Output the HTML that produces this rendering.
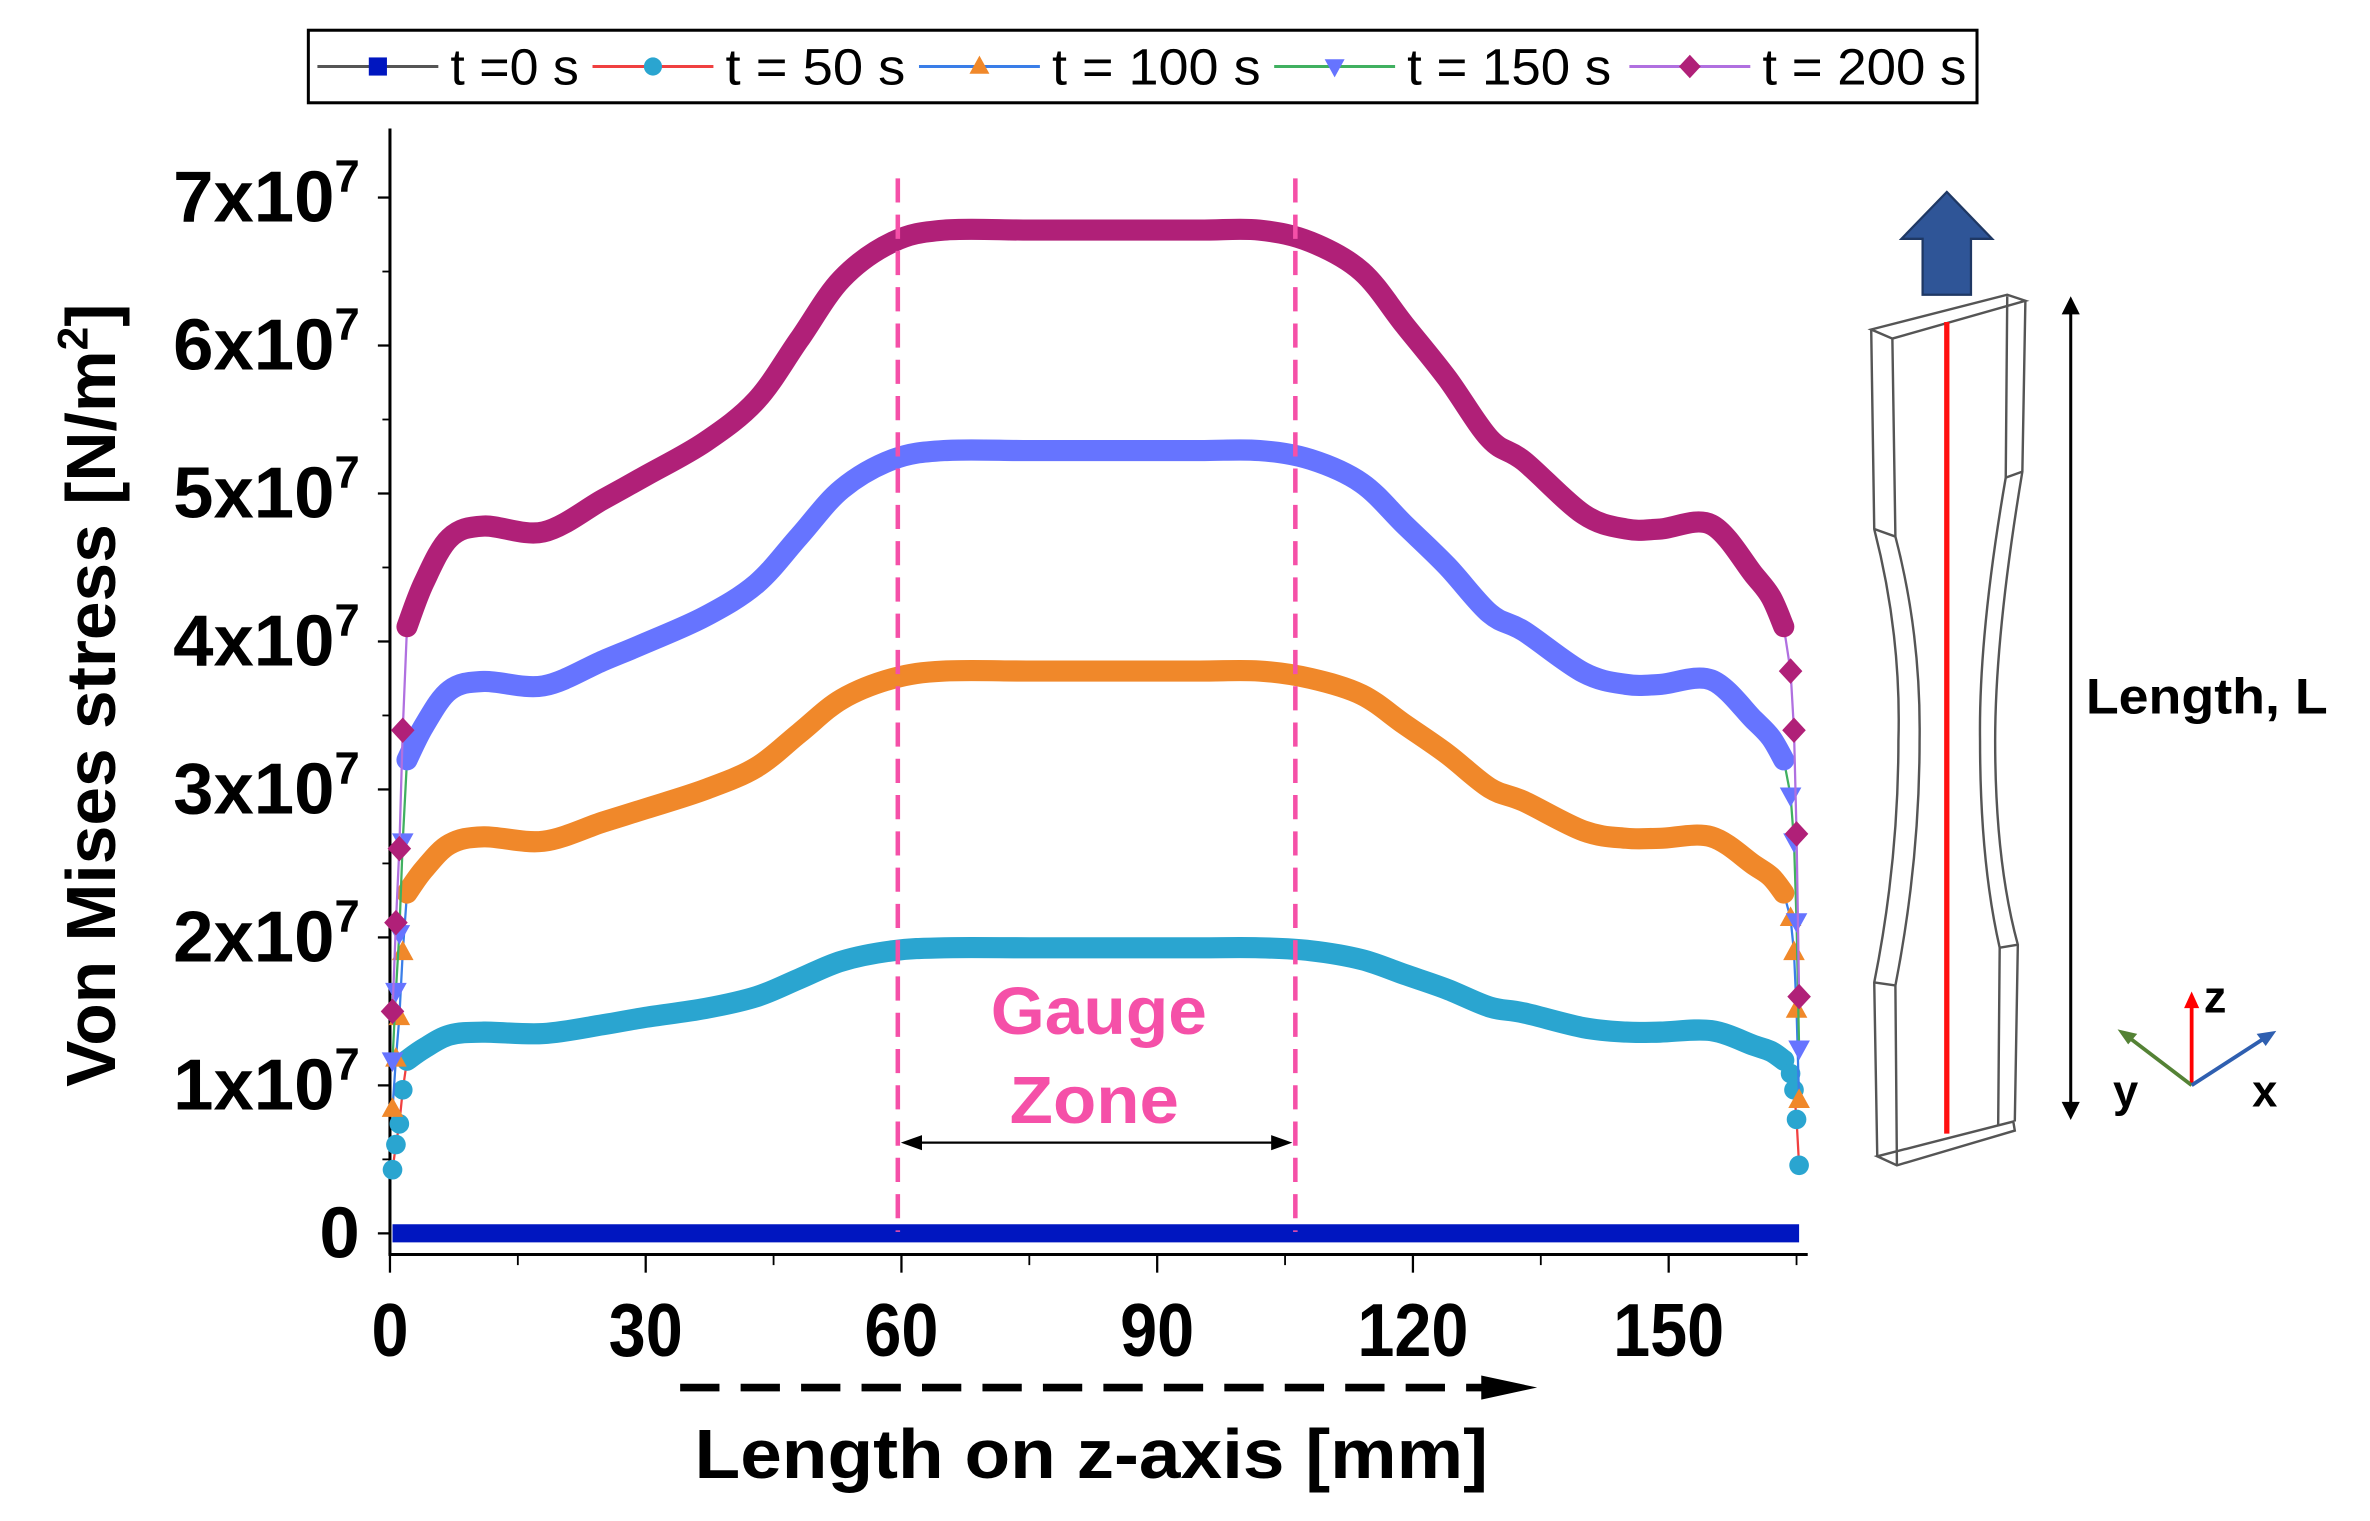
<!DOCTYPE html>
<html><head><meta charset="utf-8"><style>
html,body{margin:0;padding:0;background:#fff;}
svg{display:block;}
.n{font-family:"Liberation Sans",sans-serif;}
.b{font-family:"Liberation Sans",sans-serif;font-weight:bold;}
</style></head><body>
<svg id="chart" width="2370" height="1521" viewBox="0 0 1568 1006.3" preserveAspectRatio="none" xmlns="http://www.w3.org/2000/svg">
<g id="legend"></g>
<g id="axes"></g>
<g id="series"></g>
<g id="annot">
  <line x1="594" y1="118" x2="594" y2="815" stroke="#f550a8" stroke-width="3" stroke-dasharray="16,8"/>
  <line x1="857" y1="118" x2="857" y2="815" stroke="#f550a8" stroke-width="3" stroke-dasharray="16,8"/>
  <text class="b" x="727" y="684" font-size="44" fill="#f550a8" text-anchor="middle" textLength="143" lengthAdjust="spacingAndGlyphs">Gauge</text>
  <text class="b" x="724" y="743" font-size="44" fill="#f550a8" text-anchor="middle" textLength="112" lengthAdjust="spacingAndGlyphs">Zone</text>
  <g>
    <line x1="600" y1="756" x2="851" y2="756" stroke="#000" stroke-width="1.5"/>
    <polygon points="596,756 610,751 610,761" fill="#000"/>
    <polygon points="855,756 841,751 841,761" fill="#000"/>
  </g>
  <g>
    <line x1="450" y1="918" x2="985" y2="918" stroke="#000" stroke-width="5" stroke-dasharray="26,14"/>
    <polygon points="980,910 1017,918 980,926" fill="#000"/>
  </g>
  <text class="b" x="722" y="978" font-size="46" text-anchor="middle" textLength="525" lengthAdjust="spacingAndGlyphs">Length on z-axis [mm]</text>
  <text class="b" font-size="46" text-anchor="middle" transform="translate(76,460) rotate(-90)">Von Mises stress [N/m<tspan font-size="28" dy="-18">2</tspan><tspan dy="18">]</tspan></text>
</g>
<g id="diagram">
  <g>
    <polygon points="1288,127 1318,158 1304,158 1304,195 1272,195 1272,158 1258,158" fill="#2f5597" stroke="#1f3864" stroke-width="1.5"/>
  </g>
  <g fill="none" stroke="#555" stroke-width="1.6">
    <polygon points="1238,218 1328,195 1340,199 1252,224" />
    <path d="M1238,218 L1240,350 Q1258,420 1256,490 Q1256,570 1240,650 L1242,765"/>
    <path d="M1252,224 L1254,355 Q1271,420 1270,490 Q1270,570 1254,652 L1255,771"/>
    <path d="M1340,199 L1338,312 Q1320,420 1320,490 Q1320,570 1335,625 L1333,742"/>
    <path d="M1328,196 L1327,316 Q1309,420 1310,490 Q1310,570 1323,627 L1322,744"/>
    <polygon points="1242,765 1332,742 1333,748 1255,771"/>
    <line x1="1240" y1="350" x2="1254" y2="355"/><line x1="1240" y1="650" x2="1254" y2="652"/>
    <line x1="1338" y1="312" x2="1327" y2="316"/><line x1="1335" y1="625" x2="1323" y2="627"/>
  </g>
  <line x1="1288" y1="213" x2="1288" y2="750" stroke="#ff1010" stroke-width="3.5"/>
  <g>
    <line x1="1370" y1="203" x2="1370" y2="734" stroke="#000" stroke-width="2"/>
    <polygon points="1370,196 1364,208 1376,208" fill="#000"/>
    <polygon points="1370,741 1364,729 1376,729" fill="#000"/>
  </g>
  <text class="b" x="1380" y="472" font-size="33" textLength="160" lengthAdjust="spacingAndGlyphs">Length, L</text>
  <g>
    <line x1="1450" y1="718" x2="1450" y2="664" stroke="#ff0000" stroke-width="2.5"/><polygon points="1450,656 1445,667 1455,667" fill="#ff0000"/>
    <line x1="1450" y1="718" x2="1408" y2="686" stroke="#548235" stroke-width="2.5"/><polygon points="1401,681 1414,684 1408,691" fill="#548235"/>
    <line x1="1450" y1="718" x2="1498" y2="687" stroke="#2f5fb0" stroke-width="2.5"/><polygon points="1506,682 1493,684 1499,692" fill="#2f5fb0"/>
    <text class="b" x="1458" y="670" font-size="30">z</text>
    <text class="b" x="1398" y="732" font-size="30">y</text>
    <text class="b" x="1490" y="732" font-size="30">x</text>
  </g>
</g>
</svg>
<script>
const xPos = [0.3,0.7,1.1,1.5,2,4,7,11,18,25,30,37,43,48,53,59,65,75,85,95,102,108,114,119,124,129,133,140,145,149,155,160,162,163.5,164.3,164.7,165,165.3];
const t0Vals = [0,0,0,0,0,0,0,0,0,0,0,0,0,0,0,0,0,0,0,0,0,0,0,0,0,0,0,0,0,0,0,0,0,0,0,0,0,0];
const t50Vals = [0.43,0.6,0.74,0.97,1.17,1.25,1.34,1.36,1.35,1.41,1.46,1.52,1.6,1.72,1.84,1.91,1.93,1.93,1.93,1.93,1.93,1.91,1.85,1.75,1.65,1.53,1.49,1.39,1.36,1.36,1.37,1.27,1.23,1.17,1.08,0.97,0.77,0.46];
const t100Vals = [0.84,1.18,1.46,1.9,2.3,2.46,2.63,2.68,2.65,2.78,2.87,3.0,3.15,3.38,3.61,3.75,3.8,3.8,3.8,3.8,3.8,3.75,3.64,3.44,3.24,3.01,2.92,2.72,2.67,2.67,2.68,2.49,2.41,2.3,2.13,1.9,1.51,0.9];
const t150Vals = [1.17,1.64,2.03,2.65,3.2,3.43,3.67,3.73,3.7,3.87,3.99,4.17,4.39,4.71,5.03,5.23,5.29,5.29,5.29,5.29,5.29,5.23,5.07,4.79,4.51,4.19,4.07,3.79,3.71,3.71,3.74,3.47,3.35,3.2,2.96,2.65,2.11,1.25];
const t200Vals = [1.5,2.1,2.6,3.4,4.1,4.4,4.7,4.78,4.74,4.96,5.12,5.35,5.63,6.04,6.45,6.7,6.78,6.78,6.78,6.78,6.78,6.7,6.5,6.14,5.78,5.37,5.22,4.86,4.76,4.76,4.79,4.45,4.3,4.1,3.8,3.4,2.7,1.6];
const seriesNames = ["t =0 s","t = 50 s","t = 100 s","t = 150 s","t = 200 s"];
const xTicks = [0,30,60,90,120,150];
const yTicks = [0,1,2,3,4,5,6,7];

const NS="http://www.w3.org/2000/svg";
const X = v => 258 + v*5.64;
const Y = v => 816 - v*97.9;
function mk(tag, attrs, parent){const e=document.createElementNS(NS,tag);for(const k in attrs)e.setAttribute(k,attrs[k]);parent.appendChild(e);return e;}
function marker(shape,cx,cy,s,color,parent){
  let e;
  if(shape==='sq') e=mk('rect',{x:cx-s,y:cy-s,width:2*s,height:2*s,fill:color},parent);
  else if(shape==='ci') e=mk('circle',{cx:cx,cy:cy,r:s,fill:color},parent);
  else if(shape==='tu') e=mk('polygon',{points:`${cx},${cy-s*1.2} ${cx+s*1.1},${cy+s*0.8} ${cx-s*1.1},${cy+s*0.8}`,fill:color},parent);
  else if(shape==='td') e=mk('polygon',{points:`${cx},${cy+s*1.2} ${cx+s*1.1},${cy-s*0.8} ${cx-s*1.1},${cy-s*0.8}`,fill:color},parent);
  else e=mk('polygon',{points:`${cx},${cy-s*1.3} ${cx+s*1.2},${cy} ${cx},${cy+s*1.3} ${cx-s*1.2},${cy}`,fill:color},parent);
  return e;
}
function smooth(p){
  let d='M'+p[0][0]+','+p[0][1];
  for(let i=0;i<p.length-1;i++){
    const p0=p[Math.max(0,i-1)],p1=p[i],p2=p[i+1],p3=p[Math.min(p.length-1,i+2)];
    const c1=[p1[0]+(p2[0]-p0[0])/6,p1[1]+(p2[1]-p0[1])/6];
    const c2=[p2[0]-(p3[0]-p1[0])/6,p2[1]-(p3[1]-p1[1])/6];
    d+=` C${c1[0]},${c1[1]} ${c2[0]},${c2[1]} ${p2[0]},${p2[1]}`;
  }
  return d;
}
const colors=["#0016c0","#2aa5d0","#f0882a","#6674ff","#b02078"];
const lineCols=["#555","#f04040","#3a7ee8","#40b060","#b070e0"];
const shapes=["sq","ci","tu","td","di"];
const allVals=[t0Vals,t50Vals,t100Vals,t150Vals,t200Vals];

// legend
const lg=document.getElementById('legend');
const box=mk('rect',{x:204,y:20,width:1104,height:48,fill:'#fff',stroke:'#000','stroke-width':2},lg);


const lx=[210,392,608,843,1078];
const tw=[85,119,138,135,135];
for(let i=0;i<5;i++){
  const g=mk('g',{},lg);
  
  
  mk('line',{x1:lx[i],y1:44,x2:lx[i]+80,y2:44,stroke:lineCols[i],'stroke-width':2},g);
  marker(shapes[i],lx[i]+40,44,6,colors[i],g);
  const t=mk('text',{x:lx[i]+88,y:56,'font-size':34,class:'n',textLength:tw[i],lengthAdjust:'spacingAndGlyphs'},g);
  t.textContent=seriesNames[i];
}

// axes
const ax=document.getElementById('axes');
const yl=mk('line',{x1:258,y1:85,x2:258,y2:830,stroke:'#000','stroke-width':2},ax);


const xl=mk('line',{x1:257,y1:830,x2:1196,y2:830,stroke:'#000','stroke-width':2},ax);


yTicks.forEach(v=>{
  mk('line',{x1:250,y1:Y(v),x2:258,y2:Y(v),stroke:'#000','stroke-width':1.5},ax);
  if(v<7) mk('line',{x1:253,y1:Y(v+0.5),x2:258,y2:Y(v+0.5),stroke:'#000','stroke-width':1.2},ax);
  const t=mk('text',{x:238,y:Y(v)+16,'font-size':48,'text-anchor':'end',class:'b'},ax);
  
  
  if(v===0){t.textContent='0';}
  else{t.appendChild(document.createTextNode(v+'x10'));const s=mk('tspan',{'font-size':30,dy:-20},t);s.textContent='7';}
});
xTicks.forEach(v=>{
  mk('line',{x1:X(v),y1:830,x2:X(v),y2:842,stroke:'#000','stroke-width':1.5},ax);
  if(v<165) mk('line',{x1:X(v+15),y1:830,x2:X(v+15),y2:837,stroke:'#000','stroke-width':1.2},ax);
  const s=String(v);
  const t=mk('text',{x:X(v),y:897,'font-size':50,'text-anchor':'middle',class:'b',textLength:s.length*24.5,lengthAdjust:'spacingAndGlyphs'},ax);
  
  
  t.textContent=s;
});

// series
const sg=document.getElementById('series');
for(let i=0;i<5;i++){
  const vals=allVals[i];
  const g=mk('g',{},sg);
  
  
  if(i===0){
    mk('polyline',{points:xPos.map((x,j)=>X(x)+','+Y(vals[j])).join(' '),fill:'none',stroke:colors[0],'stroke-width':12},g);
    continue;}
  const mid=xPos.map((x,j)=>[X(x),Y(vals[j]),x]).filter(p=>p[2]>=2&&p[2]<=163.5);
  mk('polyline',{points:xPos.map((x,j)=>X(x)+','+Y(vals[j])).join(' '),fill:'none',stroke:lineCols[i],'stroke-width':1.5},g);
  mk('path',{d:smooth(mid),fill:'none',stroke:colors[i],'stroke-width':14,'stroke-linejoin':'round','stroke-linecap':'round'},g);
  xPos.forEach((x,j)=>{ if(x<2||x>163.5){ marker(shapes[i],X(x),Y(vals[j]),6.5,colors[i],g);} });
}
</script>
</body></html>
